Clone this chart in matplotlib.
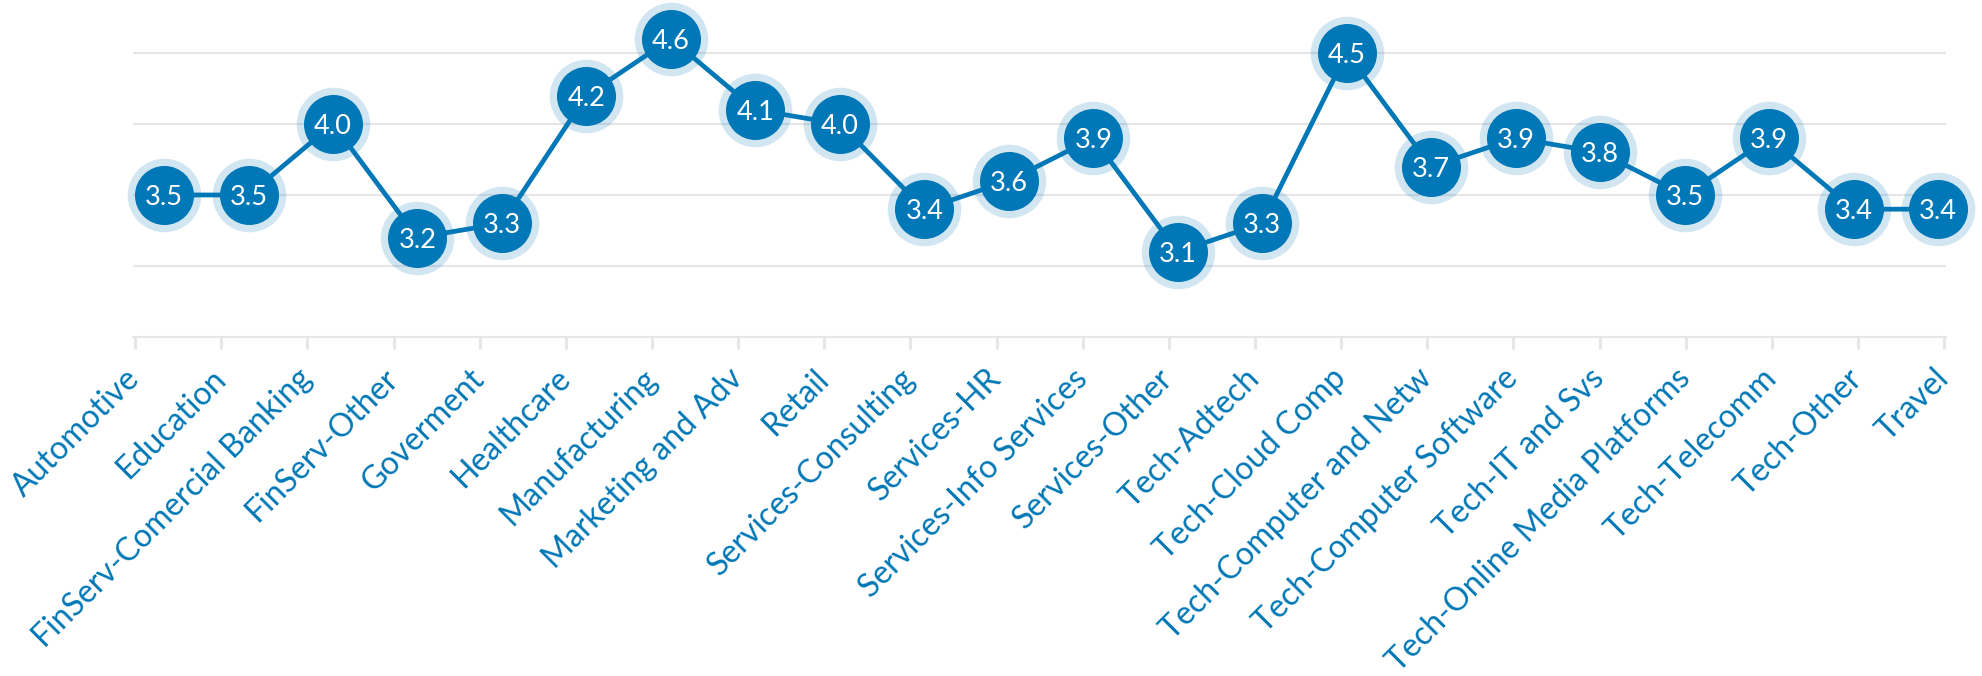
import numpy as np
import matplotlib
matplotlib.use("Agg")
import matplotlib.pyplot as plt

# --- data ---
industries = [
    "Automotive", "Education", "FinServ-Comercial Banking", "FinServ-Other",
    "Goverment", "Healthcare", "Manufacturing", "Marketing and Adv", "Retail",
    "Services-Consulting", "Services-HR", "Services-Info Services",
    "Services-Other", "Tech-Adtech", "Tech-Cloud Comp", "Tech-Computer and Netw",
    "Tech-Computer Software", "Tech-IT and Svs", "Tech-Online Media Platforms",
    "Tech-Telecomm", "Tech-Other", "Travel",
]
scores = [3.5, 3.5, 4.0, 3.2, 3.3, 4.2, 4.6, 4.1, 4.0, 3.4, 3.6,
          3.9, 3.1, 3.3, 4.5, 3.7, 3.9, 3.8, 3.5, 3.9, 3.4, 3.4]
grid_levels = [3.0, 3.5, 4.0, 4.5]

BLUE = "#0077b6"
GRID = "#e6e6e6"
FONT = ["Lato", "DejaVu Sans"]

fig = plt.figure(figsize=(19.83, 6.76), dpi=100)
ax = fig.add_axes([0.0671, 0.5015, 0.9143, 0.4985])

x = np.arange(len(industries))
ax.plot(x, scores, color=BLUE, lw=3.4, zorder=3, clip_on=False)
# light halo + solid dot
ax.plot(x, scores, "o", ms=53, color=BLUE, alpha=0.18, mec="none", zorder=4, clip_on=False)
ax.plot(x, scores, "o", ms=42.5, color=BLUE, mec="none", zorder=5, clip_on=False)
for xi, s in zip(x, scores):
    ax.text(xi, s, f"{s:.1f}", color="white", fontsize=19.5, ha="center",
            va="center_baseline", zorder=6, family=FONT)

x_lo, x_hi = -0.367, 21.095
ax.set_xlim(x_lo, x_hi)
ax.set_ylim(2.5, 4.873)

# ticks spread evenly over the whole axis
inset = 0.024
ax.set_xticks(np.linspace(x_lo + inset, x_hi - inset, len(industries)))
ax.set_xticklabels(industries, rotation=45, ha="right", va="center",
                   rotation_mode="anchor", fontsize=23, color=BLUE, family=FONT)
ax.tick_params(axis="x", length=8.6, width=2.2, color=GRID, pad=18)

ax.set_yticks(grid_levels)
ax.tick_params(axis="y", length=0, labelleft=False)
ax.grid(axis="y", color=GRID, lw=1.5)
ax.set_axisbelow(True)

for side in ["top", "right", "left"]:
    ax.spines[side].set_visible(False)
ax.spines["bottom"].set_color(GRID)
ax.spines["bottom"].set_linewidth(1.5)

fig.savefig("out.png", dpi=100)
